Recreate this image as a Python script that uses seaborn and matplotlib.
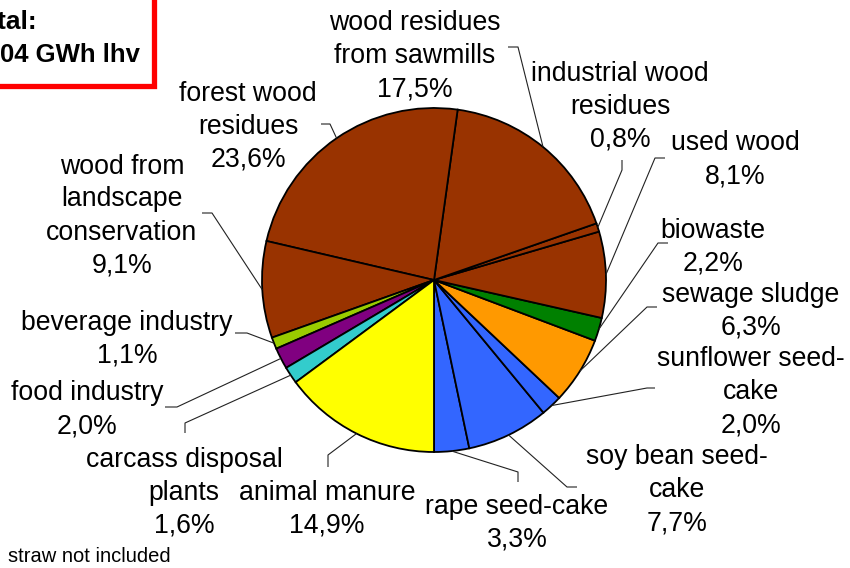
import matplotlib
matplotlib.use("Agg")
import matplotlib.pyplot as plt
import matplotlib.patches as mpatches
import numpy as np
import seaborn as sns

# --- data (counter-clockwise from six o'clock) ---
categories = [
    "rape seed-cake", "soy bean seed-\ncake", "sunflower seed-\ncake",
    "sewage sludge", "biowaste", "used wood", "industrial wood\nresidues",
    "wood residues\nfrom sawmills", "forest wood\nresidues",
    "wood from\nlandscape\nconservation", "beverage industry",
    "food industry", "carcass disposal\nplants", "animal manure",
]
shares = [3.3, 7.7, 2.0, 6.3, 2.2, 8.1, 0.8, 17.5, 23.6, 9.1, 1.1, 2.0, 1.6, 14.9]
share_labels = ["3,3%", "7,7%", "2,0%", "6,3%", "2,2%", "8,1%", "0,8%",
                "17,5%", "23,6%", "9,1%", "1,1%", "2,0%", "1,6%", "14,9%"]

brown, blue = "#993300", "#3366FF"
colors = [blue, blue, blue, "#FF9900", "#008000", brown, brown, brown, brown,
          brown, "#99CC00", "#800080", "#33CCCC", "#FFFF00"]

# --- layout in pixels (y measured from the top) ---
W, H = 850, 568
CX, CY, R = 434, 280, 172
# label centre, elbow of leader line, end of leader line
label_pos = [(517, 523), (677, 490), (751, 392), (751, 311), (713, 247),
             (735, 160), (620, 107), (415, 56), (248, 127), (122, 216),
             (127, 339), (87, 410), (184, 493), (327, 509)]
elbows = [(518, 472), (567, 487), (647, 388), (647, 307), (658, 243),
          (655, 158), (622, 170), (518, 47), (330, 124), (212, 213),
          (247, 333), (177, 407), (185, 423), (328, 455)]
ends = [(518, 482), (577, 487), (655, 388), (657, 307), (668, 243),
        (665, 158), (622, 160), (508, 47), (321, 124), (202, 213),
        (235, 333), (165, 407), (185, 433), (328, 467)]


def fy(y):
    return H - y


sns.set_theme(style="white")
plt.rcParams["font.family"] = ["Liberation Sans", "DejaVu Sans"]
plt.rcParams["text.color"] = "black"

fig = plt.figure(figsize=(W / 100, H / 100), dpi=100)
ax = fig.add_axes([0, 0, 1, 1])

wedges, _ = ax.pie(shares, colors=colors, startangle=270, counterclock=True,
                   center=(CX, fy(CY)), radius=R,
                   wedgeprops=dict(edgecolor="black", linewidth=1.3))
ax.set_xlim(0, W)
ax.set_ylim(0, H)
ax.set_aspect("equal")
ax.axis("off")

for w, name, pct, lp, el, en in zip(wedges, categories, share_labels,
                                    label_pos, elbows, ends):
    mid = np.deg2rad((w.theta1 + w.theta2) / 2)
    sx = CX + R * np.cos(mid)
    sy = fy(CY) + R * np.sin(mid)
    ax.plot([sx, el[0], en[0]], [sy, fy(el[1]), fy(en[1])],
            color="#222222", lw=0.8, solid_capstyle="butt")
    ax.text(lp[0], fy(lp[1]), f"{name}\n{pct}", ha="center", va="center",
            fontsize=19.2, linespacing=1.35, color="black")

# total box, cut off at the top-left corner
ax.add_patch(mpatches.Rectangle((-20, fy(86)), 174.5, 120, fill=False,
                                edgecolor="#FF0000", linewidth=3.8))
ax.text(37, fy(22), "total:", ha="right", va="center", fontsize=19,
        fontweight="bold", color="black")
ax.text(140, fy(55), "04 GWh lhv", ha="right", va="center", fontsize=18.5,
        fontweight="bold", color="black")

ax.text(8, fy(562), "straw not included", ha="left", va="baseline",
        fontsize=14.5, color="black")

fig.savefig("out.png", dpi=100)
